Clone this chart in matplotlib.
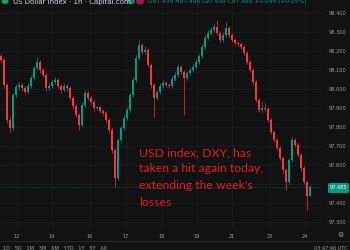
import numpy as np
import matplotlib
matplotlib.use('Agg')
import matplotlib.pyplot as plt
from matplotlib.patches import Circle, FancyBboxPatch

# hourly candles, US Dollar Index
opens = [98.170, 98.151, 98.020, 97.836, 97.794, 97.968, 98.010, 98.020, 98.004, 97.983,
         98.015, 98.057, 98.109, 98.141, 98.099, 98.073, 98.004, 98.015, 98.036, 98.046,
         98.015, 97.994, 98.015, 98.004, 97.952, 97.910, 97.863, 97.810, 97.915, 97.978,
         97.952, 97.931, 97.899, 97.902, 97.884, 97.873, 97.836, 97.784, 97.679, 97.532,
         97.731, 97.794, 97.847, 97.889, 97.968, 98.046, 98.162, 98.230, 98.193, 98.204,
         98.125, 98.020, 97.952, 97.983, 98.015, 98.031, 98.020, 98.015, 98.052, 98.073,
         98.115, 98.088, 98.057, 98.083, 98.099, 98.115, 98.141, 98.172, 98.220, 98.267,
         98.293, 98.309, 98.325, 98.293, 98.256, 98.283, 98.319, 98.283, 98.256, 98.241,
         98.235, 98.220, 98.188, 98.141, 98.099, 98.036, 97.941, 97.889, 97.899, 97.894,
         97.836, 97.773, 97.731, 97.689, 97.637, 97.574, 97.511, 97.626, 97.731, 97.705,
         97.653, 97.584, 97.511, 97.439]
closes = [98.151, 98.020, 97.836, 97.794, 97.968, 98.010, 98.020, 98.004, 97.983, 98.015,
          98.057, 98.109, 98.141, 98.099, 98.073, 98.004, 98.015, 98.036, 98.046, 98.015,
          97.994, 98.015, 98.004, 97.952, 97.910, 97.863, 97.810, 97.915, 97.978, 97.952,
          97.931, 97.899, 97.902, 97.884, 97.873, 97.836, 97.784, 97.679, 97.532, 97.731,
          97.794, 97.847, 97.889, 97.968, 98.046, 98.162, 98.230, 98.193, 98.204, 98.125,
          98.020, 97.952, 97.983, 98.015, 98.031, 98.020, 98.015, 98.052, 98.073, 98.115,
          98.088, 98.057, 98.083, 98.099, 98.115, 98.141, 98.172, 98.220, 98.267, 98.293,
          98.309, 98.325, 98.293, 98.256, 98.283, 98.319, 98.283, 98.256, 98.241, 98.235,
          98.220, 98.188, 98.141, 98.099, 98.036, 97.941, 97.889, 97.899, 97.894, 97.836,
          97.773, 97.731, 97.689, 97.637, 97.574, 97.511, 97.626, 97.731, 97.705, 97.653,
          97.584, 97.511, 97.439, 97.485]
highs = [98.185, 98.160, 98.030, 97.850, 97.980, 98.025, 98.035, 98.032, 98.015, 98.028,
         98.070, 98.122, 98.165, 98.152, 98.110, 98.083, 98.030, 98.048, 98.062, 98.058,
         98.025, 98.030, 98.026, 98.012, 97.962, 97.920, 97.872, 97.928, 97.992, 97.988,
         97.962, 97.940, 97.912, 97.910, 97.895, 97.882, 97.845, 97.792, 97.690, 97.742,
         97.806, 97.860, 97.902, 97.980, 98.060, 98.175, 98.256, 98.240, 98.225, 98.214,
         98.135, 98.030, 97.996, 98.028, 98.045, 98.042, 98.032, 98.065, 98.086, 98.128,
         98.125, 98.098, 98.095, 98.112, 98.128, 98.154, 98.185, 98.233, 98.280, 98.306,
         98.322, 98.338, 98.361, 98.304, 98.296, 98.351, 98.330, 98.294, 98.268, 98.252,
         98.246, 98.230, 98.198, 98.150, 98.108, 98.045, 97.950, 97.930, 97.925, 97.905,
         97.845, 97.782, 97.740, 97.698, 97.646, 97.582, 97.638, 97.745, 97.742, 97.715,
         97.662, 97.592, 97.520, 97.496]
lows = [98.140, 98.005, 97.820, 97.773, 97.785, 97.955, 97.995, 97.990, 97.970, 97.972,
        98.005, 98.045, 98.098, 98.085, 98.060, 97.990, 97.992, 98.005, 98.025, 98.002,
        97.980, 97.985, 97.990, 97.940, 97.895, 97.850, 97.784, 97.800, 97.905, 97.940,
        97.918, 97.885, 97.886, 97.872, 97.860, 97.822, 97.770, 97.665, 97.485, 97.520,
        97.720, 97.782, 97.835, 97.878, 97.955, 98.035, 98.150, 98.180, 98.182, 98.112,
        98.005, 97.852, 97.940, 97.972, 98.003, 98.008, 98.002, 98.004, 98.040, 98.062,
        98.075, 97.863, 98.045, 98.072, 98.088, 98.104, 98.130, 98.160, 98.210, 98.255,
        98.280, 98.296, 98.282, 98.244, 98.245, 98.272, 98.270, 98.244, 98.230, 98.222,
        98.208, 98.176, 98.128, 98.086, 98.022, 97.928, 97.876, 97.878, 97.882, 97.824,
        97.760, 97.718, 97.676, 97.624, 97.560, 97.469, 97.500, 97.615, 97.692, 97.640,
        97.570, 97.498, 97.364, 97.439]

day_labels = ['12', '14', '16', '17', '18', '19', '21', '23', '24']
day_pos = [5.3, 17, 29.7, 41.7, 53.7, 65.3, 77, 89.7, 101.3]
price_ticks = [97.3, 97.4, 97.5, 97.6, 97.7, 97.8, 97.9, 98.0, 98.1, 98.2, 98.3, 98.4]
last_price = 97.485

bg = '#121212'
up = '#089981'
down = '#f23645'
txt = '#9b9ea6'

o = np.array(opens)
c = np.array(closes)
h = np.array(highs)
l = np.array(lows)
x = np.arange(len(c))
cols = np.where(c >= o, up, down)

fig = plt.figure(figsize=(3.5, 2.5), dpi=100, facecolor=bg)
ax = fig.add_axes([0, 0.088, 0.92, 0.912], facecolor=bg)

ax.vlines(x, l, h, colors=cols, linewidth=0.5)
body = np.maximum(np.abs(c - o), 0.003)
ax.bar(x, body, bottom=np.minimum(o, c), width=0.55, color=cols, linewidth=0)

ax.set_xlim(-0.33, 107)
ax.set_ylim(97.269, 98.466)

for yv in price_ticks:
    ax.axhline(yv, color='#1c1c1c', linewidth=0.6, zorder=0)
for xv in day_pos:
    ax.axvline(xv, color='#1c1c1c', linewidth=0.6, zorder=0)

ax.yaxis.tick_right()
ax.set_yticks(price_ticks)
# the 97.500 label sits under the last-price tag
ax.set_yticklabels(['' if abs(v - 97.5) < 1e-6 else '%.3f' % v for v in price_ticks],
                   fontsize=3.6, color=txt)
ax.set_xticks(day_pos)
ax.set_xticklabels(day_labels, fontsize=3.6, color=txt)
ax.tick_params(length=0, pad=4.5)
for s in ax.spines.values():
    s.set_visible(False)

# last price tag
ax.axhline(last_price, color=up, linewidth=0.4, linestyle=(0, (1, 2)), zorder=0)
tag = FancyBboxPatch((328 / 350, 1 - 193 / 250), 21 / 350, 10 / 250,
                     boxstyle='round,pad=0,rounding_size=0.005',
                     transform=fig.transFigure, facecolor=up, edgecolor='none')
fig.patches.append(tag)
fig.text(338.5 / 350, 1 - 187.5 / 250, '%.3f' % last_price, fontsize=3.6,
         color='white', ha='center', va='center')

# header
fig.patches.append(Circle((5 / 350, 1 - 1.5 / 250), 3.5 / 350, transform=fig.transFigure,
                          facecolor='#1f9c5c', edgecolor='none'))
fig.text(13 / 350, 1 - 2 / 250, 'US Dollar Index · 1h · Capital.com', fontsize=5,
         color='#d1d4dc', va='center')
fig.patches.append(Circle((131 / 350, 1 - 1.5 / 250), 4 / 350, transform=fig.transFigure,
                          facecolor='#1a7f6a', edgecolor='none'))
fig.patches.append(Circle((140 / 350, 1 - 1.5 / 250), 4 / 350, transform=fig.transFigure,
                          facecolor='#a3174a', edgecolor='none'))
fig.text(148 / 350, 1 - 2 / 250, 'O97.439 H97.496 L97.439 C97.485 +0.044 (+0.05%)',
         fontsize=4.2, color='#1f8f7a', va='center')

# bottom strip
fig.add_artist(plt.Line2D([0, 1], [1 - 241 / 250] * 2, color='#2a2a2a', linewidth=0.6))
fig.text(3 / 350, 1 - 248 / 250, '1D   5D   1M   3M   6M   YTD   1Y   5Y   All',
         fontsize=3.6, color=txt, va='center')
fig.text(348 / 350, 1 - 248 / 250, '03:47:46 UTC', fontsize=3.6, color=txt,
         va='center', ha='right')
fig.text(340 / 350, 1 - 235 / 250, '⚙', fontsize=5, color=txt, ha='center', va='center')

# annotation
note = ['USD index, DXY, has', 'taken a hit again today,', "extending the week's", 'losses']
for k, line in enumerate(note):
    fig.text(139 / 350, 1 - (156 + 16.5 * k) / 250, line, fontsize=8.8, color='#e01b24',
             family='Lato', va='baseline')

fig.savefig('out.png', dpi=100, facecolor=bg)
